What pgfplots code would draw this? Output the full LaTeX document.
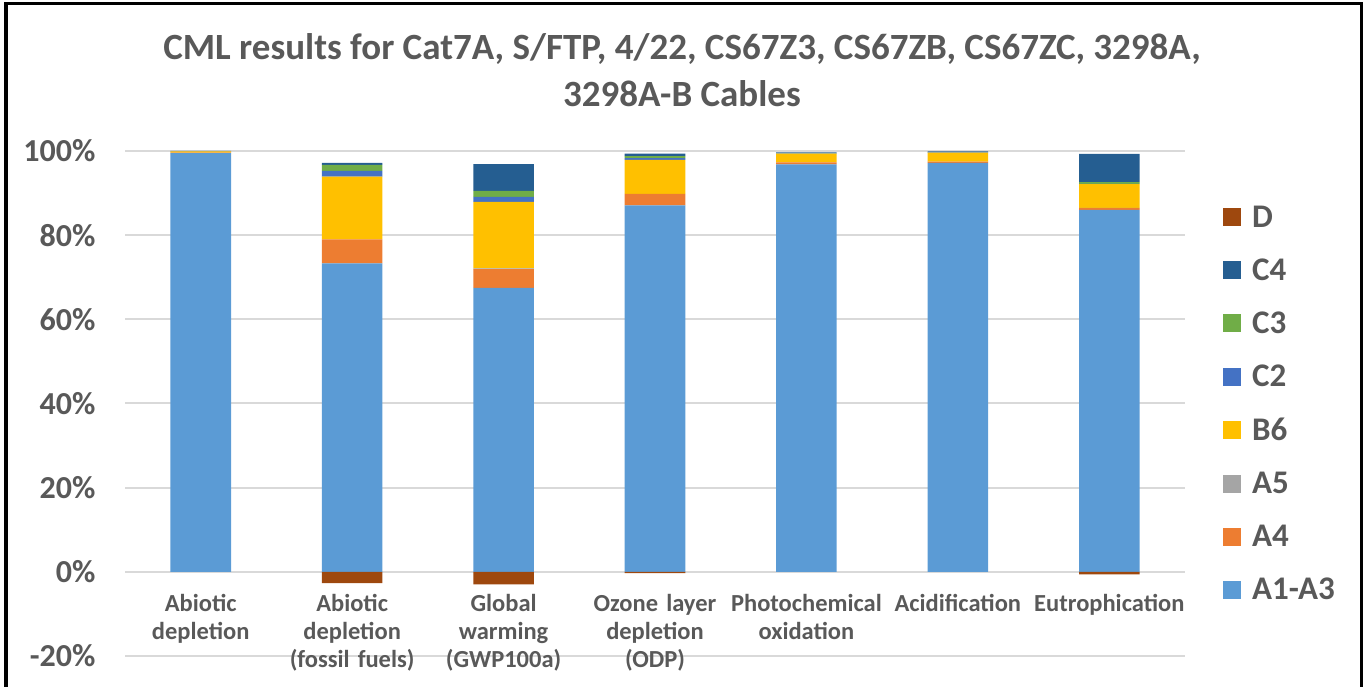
\documentclass[border=0pt]{standalone}
\usepackage{pgfplots}
\pgfplotsset{compat=1.18}
\usepackage{fontspec}
\setmainfont{Carlito}
\definecolor{cA}{HTML}{5B9BD5}
\definecolor{cAfour}{HTML}{ED7D31}
\definecolor{cAfive}{HTML}{A5A5A5}
\definecolor{cB}{HTML}{FFC000}
\definecolor{cCtwo}{HTML}{4472C4}
\definecolor{cCthree}{HTML}{70AD47}
\definecolor{cCfour}{HTML}{255E91}
\definecolor{cD}{HTML}{9E480E}
\definecolor{txt}{HTML}{595959}
\definecolor{grd}{HTML}{D9D9D9}
\begin{document}
\begin{tikzpicture}[x=1pt,y=1pt]
\path[use as bounding box] (0,0) rectangle (1364,687);
\draw[line width=3.5pt] (6,-10) -- (6,683.5) -- (1361.5,683.5) -- (1361.5,-10);
\node[anchor=base,font=\bfseries\fontsize{37}{44}\selectfont,text=txt] at (682,627) {CML results for Cat7A, S/FTP, 4/22, CS67Z3, CS67ZB, CS67ZC, 3298A,};
\node[anchor=base,font=\bfseries\fontsize{37}{44}\selectfont,text=txt] at (682,580) {3298A-B Cables};
\begin{axis}[
  at={(125pt,31pt)}, anchor=south west,
  scale only axis, width=1060pt, height=505pt,
  ybar stacked, bar width=0.4,
  xmin=-0.5, xmax=6.5, ymin=-20, ymax=100,
  ytick={-20,0,20,40,60,80,100},
  yticklabel={\pgfmathprintnumber{\tick}\%},
  /pgf/number format/assume math mode=true,
  xtick={0,...,6},
  xticklabels={{Abiotic\\depletion},{Abiotic\\depletion\\(fossil fuels)},{Global\\warming\\(GWP100a)},{Ozone layer\\depletion\\(ODP)},{Photochemical\\oxidation},{Acidification},{Eutrophication}},
  xticklabel style={align=center, text width=152pt, font=\bfseries\fontsize{24.5}{28}\selectfont, text=txt, yshift=65pt},
  yticklabel style={font=\bfseries\fontsize{32}{34}\selectfont, text=txt, xshift=-26pt},
  axis line style={draw=none}, major tick style={draw=none},
  ymajorgrids, grid style={color=grd, line width=2pt},
  legend image code/.code={\fill[#1,draw=none] (0pt,-9pt) rectangle (18pt,9pt); \path[draw=none,fill=none] (0pt,0pt) -- (27pt,0pt);},
  legend style={draw=none, fill=none, at={(1.033,0.5)}, anchor=west,
     font=\bfseries\fontsize{33}{34}\selectfont, text=txt, row sep=26pt},
  legend cell align=left,
]
\addplot[fill=cD, draw=none, forget plot] coordinates {(0,0) (1,-2.7) (2,-3.0) (3,-0.3) (4,0) (5,0) (6,-0.6)};
\addplot[fill=cA, draw=none, forget plot] coordinates {(0,99.5) (1,73.3) (2,67.5) (3,87.1) (4,96.8) (5,97.2) (6,86.0)};
\addplot[fill=cAfour, draw=none, forget plot] coordinates {(0,0.1) (1,5.7) (2,4.4) (3,2.7) (4,0.5) (5,0.3) (6,0.4)};
\addplot[fill=cAfive, draw=none, forget plot] coordinates {(0,0) (1,0) (2,0.2) (3,0) (4,0) (5,0) (6,0.1)};
\addplot[fill=cB, draw=none, forget plot] coordinates {(0,0.3) (1,14.9) (2,15.8) (3,8.1) (4,2.1) (5,2.1) (6,5.6)};
\addplot[fill=cCtwo, draw=none, forget plot] coordinates {(0,0) (1,1.4) (2,1.2) (3,0.4) (4,0.05) (5,0.05) (6,0.1)};
\addplot[fill=cCthree, draw=none, forget plot] coordinates {(0,0) (1,1.4) (2,1.4) (3,0.5) (4,0.05) (5,0.05) (6,0.4)};
\addplot[fill=cCfour, draw=none, forget plot] coordinates {(0,0.1) (1,0.5) (2,6.4) (3,0.6) (4,0.2) (5,0.2) (6,6.7)};
\addlegendimage{fill=cD}\addlegendentry{D}
\addlegendimage{fill=cCfour}\addlegendentry{C4}
\addlegendimage{fill=cCthree}\addlegendentry{C3}
\addlegendimage{fill=cCtwo}\addlegendentry{C2}
\addlegendimage{fill=cB}\addlegendentry{B6}
\addlegendimage{fill=cAfive}\addlegendentry{A5}
\addlegendimage{fill=cAfour}\addlegendentry{A4}
\addlegendimage{fill=cA}\addlegendentry{A1-A3}
\end{axis}
\end{tikzpicture}
\end{document}
